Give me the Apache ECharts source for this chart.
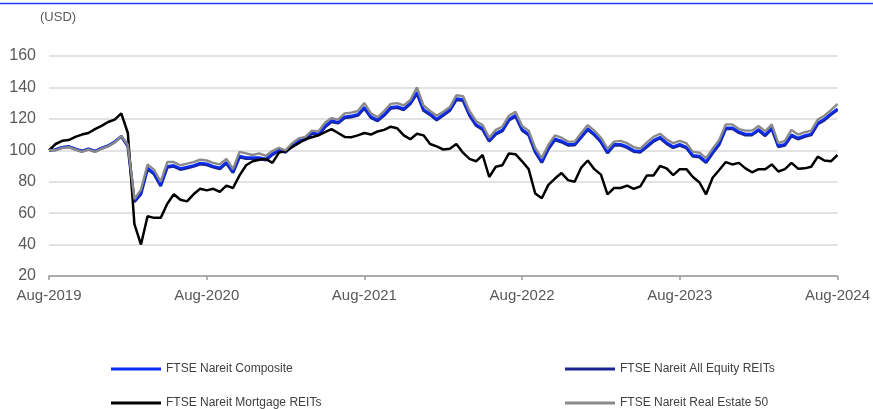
<!DOCTYPE html>
<html>
<head>
<meta charset="utf-8">
<script src="https://cdn.jsdelivr.net/npm/echarts@6/dist/echarts.min.js"></script>
<style>
  html, body { margin: 0; padding: 0; background: #fff; }
  #chart { width: 873px; height: 409px; }
</style>
</head>
<body>
<div id="chart"></div>
<script>
// half-month steps, Aug-2019 .. Aug-2024
var months = [];
for (var y = 2019, mo = 8, i = 0; i <= 120; i++) {
    months.push(y + "-" + (mo < 10 ? "0" + mo : mo) + (i % 2 === 0 ? "-01" : "-16"));
    if (i % 2 === 1) { mo++; if (mo > 12) { mo = 1; y++; } }
}

var composite = [
    100, 100.5, 102, 102.5, 101, 99.5, 101, 99.5, 101.5, 103,
    105.5, 109, 103, 68, 73, 89, 85.5, 78, 90, 90.5,
    88.5, 89.5, 90.5, 92, 91.5, 90, 89, 92.5, 86.5, 96.5,
    95.5, 95.5, 95.5, 94.5, 98, 100.5, 99.5, 103.5, 106.5, 107.5,
    111.5, 110.5, 115.5, 119, 118, 121.5, 122, 123, 127.5, 121.5,
    119.5, 123, 127.5, 128, 126.5, 130.5, 137, 126, 123.5, 120,
    123, 126, 133, 132.5, 123, 116.5, 114, 106.5, 111, 113,
    120, 122.5, 113.5, 110.5, 99.5, 93, 101.5, 107.5, 106, 104,
    104, 109, 114, 110.5, 106, 99, 104, 104, 102.5, 100,
    99.5, 103, 106.5, 108.5, 105, 102.5, 104, 102.3, 97, 96.5,
    93, 99, 104.5, 114.5, 114.5, 112, 110.5, 110.5, 113.5, 110,
    114.5, 103, 104, 110, 108, 109.5, 110.5, 117.5, 120, 123.5,
    126.5
];

var allEquity = [
    100, 100.4, 101.8, 102.3, 100.8, 99.4, 100.8, 99.3, 101.3, 102.8,
    105.3, 108.8, 102.6, 67.2, 72.2, 88.2, 84.8, 77.3, 89.2, 89.8,
    87.8, 88.7, 89.8, 91.2, 90.8, 89.3, 88.2, 91.8, 85.7, 95.7,
    94.8, 94.7, 94.8, 93.8, 97.2, 99.8, 98.8, 102.7, 105.8, 106.7,
    110.7, 109.8, 114.7, 118.2, 117.3, 120.7, 121.2, 122.2, 126.7, 120.8,
    118.7, 122.2, 126.7, 127.2, 125.8, 129.7, 136.2, 125.3, 122.7, 119.2,
    122.2, 125.3, 132.2, 131.7, 122.2, 115.8, 113.2, 105.8, 110.2, 112.3,
    119.2, 121.7, 112.8, 109.7, 98.8, 92.2, 100.8, 106.7, 105.3, 103.2,
    103.3, 108.2, 113.2, 109.8, 105.2, 98.3, 103.2, 103.3, 101.7, 99.2,
    98.8, 102.2, 105.7, 107.8, 104.2, 101.7, 103.2, 101.5, 96.2, 95.7,
    92.2, 98.2, 103.7, 113.7, 113.8, 111.2, 109.7, 109.8, 112.7, 109.2,
    113.7, 102.2, 103.2, 109.2, 107.2, 108.7, 109.8, 116.7, 119.2, 122.7,
    125.8
];

var mortgage = [
    100, 104, 106, 106.5, 108.5, 110, 111, 113.5, 115.5, 118,
    119.5, 123.5, 111, 53, 40, 58, 57, 57, 66, 72,
    68.5, 67.5, 72, 75.5, 74.5, 75.5, 73.5, 77.5, 76, 84,
    90.5, 93, 94, 94.5, 92, 98.5, 99.5, 102, 104.5, 107,
    108.3, 109.5, 111.5, 113.5, 111, 108.5, 108.3, 109.5, 111, 110,
    112, 113, 115, 114, 109.5, 107, 110.5, 109.5, 104, 102.5,
    100.5, 101, 104, 98.5, 94.5, 93, 97, 83, 89.5, 90.5,
    98, 97.5, 93, 88, 72.5, 69.5, 78, 82, 85.5, 81,
    80, 89, 93.5, 88, 84.5, 72, 76, 76, 77.5, 75.5,
    77, 84, 84, 90, 88.5, 84.2, 88, 88, 83, 79.5,
    72, 82.5, 87.5, 92.5, 91, 92, 88.5, 86, 88, 88,
    91, 86.5, 88, 92, 88.3, 88.5, 89.5, 96, 93.5, 93,
    97
];

var realEstate50 = [
    100, 100, 101.5, 102, 100.5, 99, 100.5, 99, 101, 102.5,
    105, 109, 103.5, 69, 75, 91, 87.5, 80, 92.5, 92.5,
    90.5, 91.5, 92.5, 94, 93.5, 92, 91, 94.5, 88, 99,
    98, 97, 98, 96.5, 99.5, 101.5, 100, 104.5, 107.5, 108.5,
    112.5, 112, 117.5, 120.5, 119.5, 123.5, 124, 125, 130, 123.5,
    121, 125, 129.5, 130, 128.5, 132, 140, 128.5, 125, 122,
    124.5, 127.5, 135, 134.5, 125, 118.5, 116, 108, 113, 115,
    122, 124.5, 115.5, 112.5, 101.5, 95, 103.5, 109.5, 108, 105.5,
    105.5, 111, 116, 112.5, 108, 101, 105.5, 106, 104.5, 102,
    101, 105, 108.5, 110.5, 107, 104.5, 106, 104.5, 99, 98.5,
    95, 101, 106.5, 116.5, 116.5, 113.5, 112.5, 112.5, 115.5, 112,
    116.5, 104.5, 106, 113, 110, 111.5, 112.5, 119.5, 122, 125.5,
    129.5
];

var monthNames = ["Jan","Feb","Mar","Apr","May","Jun","Jul","Aug","Sep","Oct","Nov","Dec"];
var labelColor = "#595959";
var font = "Arial, 'Liberation Sans', sans-serif";

function lineSeries(name, data, color, width) {
    return {
        name: name,
        type: "line",
        data: data,
        showSymbol: false,
        symbol: "none",
        lineStyle: { color: color, width: width },
        itemStyle: { color: color },
        emphasis: { disabled: true }
    };
}

// one legend per entry so the 2x2 layout stays fixed
function legendItem(name, left, top) {
    return {
        data: [name],
        left: left,
        top: top,
        padding: 0,
        icon: "rect",
        itemWidth: 50,
        itemHeight: 3,
        selectedMode: false,
        textStyle: { color: "#404040", fontSize: 12 }
    };
}

var chart = echarts.init(document.getElementById("chart"));
chart.setOption({
    animation: false,
    backgroundColor: "#fff",
    textStyle: { fontFamily: font },
    graphic: [
        {
            type: "line",
            shape: { x1: 0, y1: 3.5, x2: 873, y2: 3.5 },
            style: { stroke: "#1f3cff", lineWidth: 1.5 }
        },
        {
            type: "text",
            left: 40,
            top: 11,
            style: { text: "(USD)", fill: labelColor, font: "13px " + font }
        }
    ],
    grid: { left: 49, right: 35, top: 56, bottom: 133 },
    xAxis: {
        type: "category",
        data: months,
        boundaryGap: false,
        axisLine: { lineStyle: { color: "#9a9a9a", width: 1.5 } },
        axisTick: {
            length: 4,
            lineStyle: { color: "#9a9a9a", width: 1.5 },
            interval: function (idx) { return idx % 24 === 0; }
        },
        axisLabel: {
            color: labelColor,
            fontSize: 15,
            margin: 12,
            interval: function (idx) { return idx % 24 === 0; },
            formatter: function (v) {
                var p = v.split("-");
                return monthNames[parseInt(p[1], 10) - 1] + "-" + p[0];
            }
        },
        splitLine: { show: false }
    },
    yAxis: {
        type: "value",
        min: 20,
        max: 160,
        interval: 20,
        axisLine: { show: false },
        axisTick: { show: false },
        axisLabel: { color: labelColor, fontSize: 16, margin: 13 },
        splitLine: { lineStyle: { color: "#d9d9d9", width: 1.5 } }
    },
    legend: [
        legendItem("FTSE Nareit Composite", 111, 363),
        legendItem("FTSE Nareit All Equity REITs", 565, 363),
        legendItem("FTSE Nareit Mortgage REITs", 111, 397),
        legendItem("FTSE Nareit Real Estate 50", 565, 397)
    ],
    series: [
        lineSeries("FTSE Nareit All Equity REITs", allEquity, "#1b2496", 3),
        lineSeries("FTSE Nareit Composite", composite, "#0a2cf5", 2.2),
        lineSeries("FTSE Nareit Mortgage REITs", mortgage, "#000000", 2.5),
        lineSeries("FTSE Nareit Real Estate 50", realEstate50, "#8a8a8a", 2.4)
    ]
});
window.addEventListener("resize", function () {
    chart.resize();
});
</script>
</body>
</html>
